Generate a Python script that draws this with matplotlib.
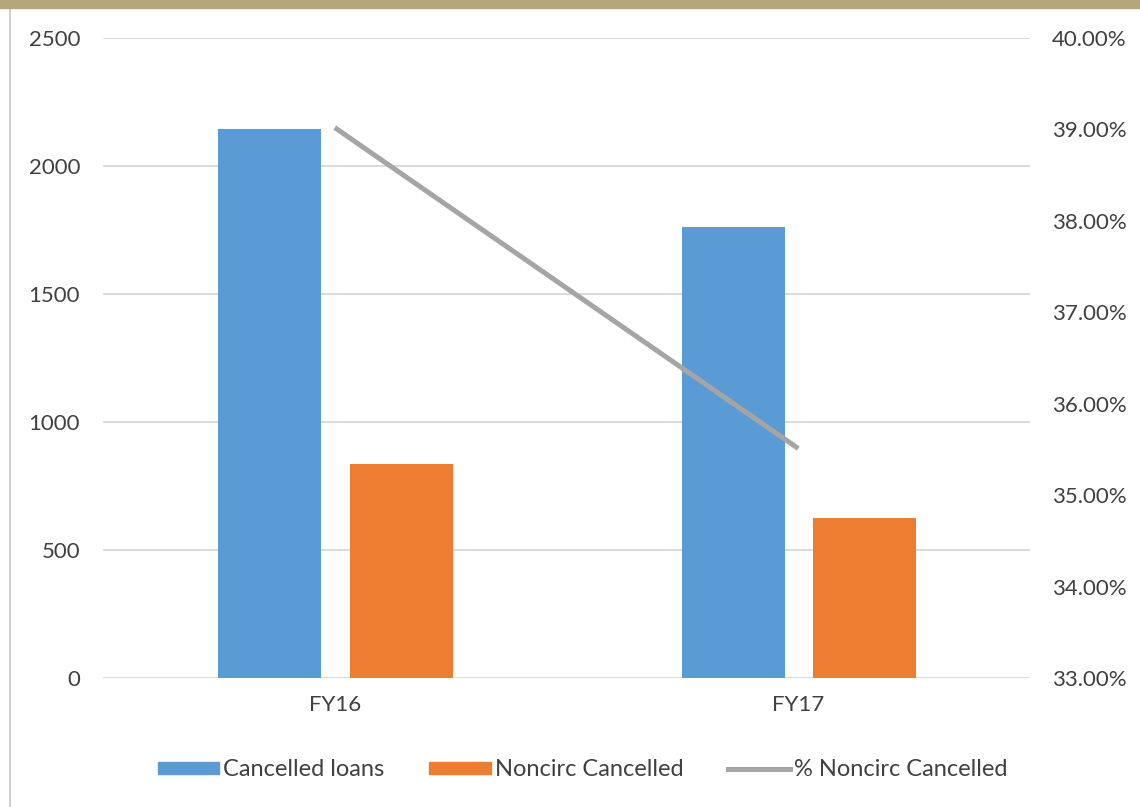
import numpy as np
import matplotlib.pyplot as plt
from matplotlib.patches import Patch, Rectangle
from matplotlib.lines import Line2D
from matplotlib.ticker import FuncFormatter

# data
years = ["FY16", "FY17"]
cancelled = [2145, 1763]
noncirc = [837, 626]
pct_noncirc = [0.3902, 0.3551]

plt.rcParams['font.family'] = ['Lato', 'DejaVu Sans']
txt_col = '#404040'

fig = plt.figure(figsize=(11.4, 8.07), dpi=100)
ax = fig.add_axes([0.0904, 0.1599, 0.8131, 0.793])
ax2 = ax.twinx()

x = np.arange(len(years))
w = 0.222
ax.bar(x - 0.14, cancelled, w, color='#5b9bd5', zorder=3)
ax.bar(x + 0.143, noncirc, w, color='#ed7d31', zorder=3)
ax2.plot(x, pct_noncirc, color='#a5a5a5', lw=3.6, solid_capstyle='butt', zorder=4)

ax.set_xlim(-0.5, 1.5)
ax.set_ylim(0, 2500)
ax.set_yticks(np.arange(0, 2501, 500))
ax2.set_ylim(0.33, 0.40)
ax2.set_yticks(np.arange(0.33, 0.4001, 0.01))
ax2.yaxis.set_major_formatter(FuncFormatter(lambda v, p: "%.2f%%" % (v * 100)))

ax.set_xticks(x)
ax.set_xticklabels(years)
ax.grid(axis='y', color='#d4d4d4', lw=1.2, zorder=0)
ax.set_axisbelow(True)

for a in (ax, ax2):
    for s in a.spines.values():
        s.set_visible(False)
    a.tick_params(length=0, labelsize=16, colors=txt_col)
ax.tick_params(axis='y', pad=16.5)
ax2.tick_params(axis='y', pad=16)
ax.tick_params(axis='x', pad=12)
ax2.set_zorder(ax.get_zorder() + 1)

# frame bits of the screenshot
fig.patches.append(Rectangle((0, 0.99), 1, 0.01, transform=fig.transFigure,
                             color='#b5a67b', zorder=10))
fig.lines.append(Line2D([0.009, 0.009], [0, 0.99], transform=fig.transFigure,
                        color='#d0d0d0', lw=1.5))

handles = [Patch(color='#5b9bd5'), Patch(color='#ed7d31'),
           Line2D([], [], color='#a5a5a5', lw=3.6)]
labels = ["Cancelled loans", "Noncirc Cancelled", "% Noncirc Cancelled"]
leg = fig.legend(handles, labels, loc='center', bbox_to_anchor=(0.511, 0.046),
                 ncol=3, frameon=False, fontsize=17, handlelength=2.6,
                 handleheight=0.45, handletextpad=0.18, columnspacing=1.9)
for t in leg.get_texts():
    t.set_color(txt_col)

fig.savefig('out.png', dpi=100)
